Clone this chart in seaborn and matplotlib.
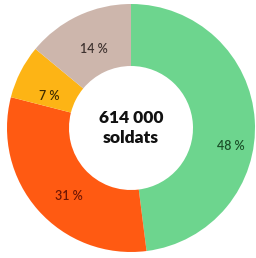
import numpy as np
import matplotlib
matplotlib.use("Agg")
import matplotlib.pyplot as plt
import seaborn as sns

# data
categories = ["A", "B", "C", "D"]
shares = [48, 31, 7, 14]
labels = ["48 %", "31 %", "7 %", "14 %"]
center_text = "614 000\nsoldats"

colors = ["#6dd58e", "#ff5a12", "#fdb415", "#cdb6ac"]
label_colors = ["#1a4f28", "#6e1604", "#3f2a00", "#3e322f"]
label_angle_offset = [-14, 6, 6, 0]
label_radius = [0.82, 0.74, 0.71, 0.70]

sns.set_theme(style="white")
plt.rcParams['font.family'] = ['Lato', 'DejaVu Sans']

fig = plt.figure(figsize=(2.56, 2.58), dpi=100)
ax = fig.add_axes([0, 0, 1, 1])
wedges, _ = ax.pie(shares, colors=colors, startangle=90, counterclock=False,
                   radius=1.0, wedgeprops=dict(width=0.5, linewidth=0))

for w, lab, lc, off, r in zip(wedges, labels, label_colors, label_angle_offset, label_radius):
    mid = (w.theta1 + w.theta2) / 2 + off
    x = r * np.cos(np.deg2rad(mid))
    y = r * np.sin(np.deg2rad(mid))
    ax.text(x, y, lab, ha="center", va="center", fontsize=9, color=lc,
            fontweight="semibold")

ax.text(0, 0.0, center_text, ha="center", va="center", fontsize=12.5,
        fontweight="heavy", color="#111111", linespacing=1.3)

ax.set_aspect("auto")
ax.set_xlim(-131/124, 125/124)
ax.set_ylim(-130/124, 128/124)
ax.axis("off")
fig.savefig("out.png", dpi=100)
